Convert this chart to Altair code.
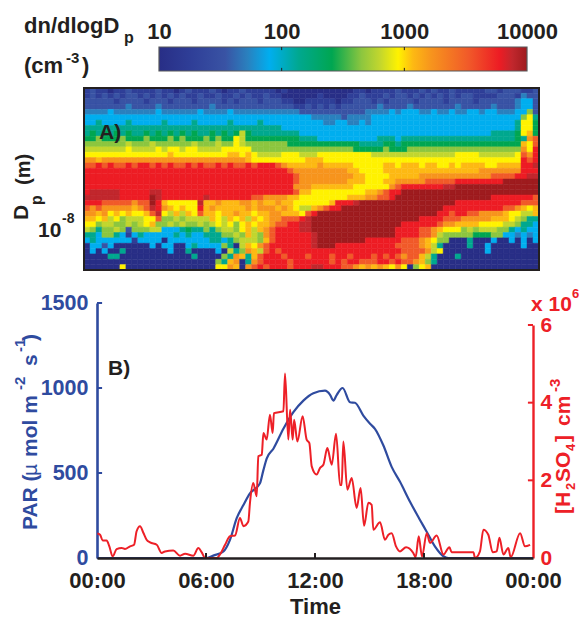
import altair as alt

# ---- data ----
grid_rows = [
"1211011211 1121101211 1210112111 1101000000 0000011011 1121112121 1211111221 222112",
"1212121221 2121212112 1121121211 2110000001 0000112111 2122121212 1212211112 221322",
"2222212222 1222122212 2221212221 2221100111 1101122212 1222212222 1222212222 223442",
"2222222322 2232222222 2322222222 2222211212 1212222223 2222322222 2232222232 223442",
"3333433333 3343333334 3333433333 3333332222 2222222333 3434443343 3433443443 334472",
"4444444444 4444444444 4444444444 4444444433 3332333344 4444444444 4444444444 444795",
"4454444544 4445444454 4444544445 4444444444 3344334344 4444444444 4444444444 445996",
"5555555555 5555555555 5555555555 5554444444 4444444444 4444444444 4444444444 445996",
"5656565655 6565656565 5656568655 5555554444 4444444444 4444444444 4444444455 5569a6",
"6676667666 7666767666 7676698666 6666665554 4444444445 5545555555 5555555555 5565bc",
"7777777877 7877777787 7787798777 7777666666 6666665555 6656666666 6666666666 666a9c",
"8888888988 8898998998 8889999977 7777777777 7777766666 7666777777 7777777777 777b9d",
"9999999999 9999a99999 9999aa9a98 8889998889 9999999988 8888888888 8899998888 889cbd",
"bbabbbbbbb bbbbbbbbbb bbbbbbba99 9999999aaa 9999999999 9999999999 9999999999 999dcd",
"ccdcdccdcd dcdcdccdcd ccdcdccdcd ddcbaaaaab aaaaa99999 aa9aaa9aa9 9a9aaaa99a aaadde",
"dddddddddd dddddddddd dddddddddd ddddcbbbbb bbbbaa9999 aaaaaaaaaa aaaaaabbbb bbbddd",
"dddddddddd dddddddddd dddddddddd dddddcbbbb bbbbbaa999 9aaaaabbbb bbbbbbbbcc ccddee",
"dddddddddd dddddddddd dddddddddd dddddcbbbb bbbbaaa999 aabbbbbccc ccdddddddd ffffff",
"dddddddddd dddddddddd dddddddddd dddddbbbaa aaaaa99999 9bcddddddd eeffffffff ffffff",
"deeeeedddd deeddddddd dddddddddd dddddcaa99 9999999aab cddfffffff ffffffffff ffffff",
"eeeeeedddd dfeddddddd edddddddcc bbbbaa9999 9999aaabbc cdffffffff ffffffffdd dddddc",
"dddcccccbc cfda99999e aabaaabbab aabaa99999 9adddeffff ffffffffff ffdddddddd dddccc",
"cbcbbbbbab cedba9a99d abaaaaabab bbaba988ab cddfffffff ffffffffff dddddddddd ccba9a",
"bbab9a9a99 ace98a8a9c aa9aabaa9a abbaaa9cdf ffffffffff fffffffffd dcddccbbbb a9988a",
"aa9a897888 99c7787888 8a98a9a8a9 abbcccdeff ffffffffff ffffffdddd cccbbbbbaa a98755",
"9978877878 9a77878778 7898979a9a abccddeeff ffffffffff fffddddddc bbaaaa9999 887554",
"8757787277 7884445655 7578879a8a bcddddeeff ffffffffff ffddddccba 9997878887 754544",
"5547754145 4444454544 5557787a87 bcddddddef ffffffffff ffddddccb8 7777766677 443434",
"4544444414 4440444444 4554578887 acddddddef fffffffddd dddcccba97 7000500040 040404",
"0442400000 0404400454 4447508a9b cdddddddef ffdddddddd ddccccba85 0000500400 000400",
"0404005000 0000400500 0040857ba8 cdcddddddd dddddddddd dddccccb89 0000000400 000000",
"0000550000 0000000050 00075ba5ac dddcdddcdd dcddcdddcd cdcbcca850 0050000000 000000",
"0000000000 0000000000 0075ab05bc ddddcddddd dcdcddcccd dcdccba750 0000000000 000000",
"0000009000 0000000000 0099ba0bcd cdddcdddee dddccbabab a9b9079a00 0000000000 000000",
]
level_codes = "0123456789abcdef"
level_values = [10, 19, 35, 52, 80, 138, 259, 447, 630, 891, 1175, 1660, 3300, 5950, 7600, 10000]
level_colors = ["#282e86", "#2f3f98", "#3953a4", "#2a80be", "#00aeef", "#00a88f", "#00a651", "#8cc63f",
                "#c2d62e", "#fff200", "#fdb913", "#f7941d", "#f15a29", "#ed1c24", "#c1272d", "#9e1b1e"]
bar_offsets = [0, .09, .18, .24, .30, .38, .47, .55, .60, .65, .69, .74, .84, .925, .96, 1]
bar_labels = [10, 100, 1000, 10000]
bar_inner_ticks = [100, 1000]

par_hours = [0, 6.04, 6.40, 6.96, 7.32, 7.69, 8.06, 8.42, 8.97, 9.16, 9.34, 9.71, 10.26, 10.81, 11.36, 11.91,
             12.55, 12.83, 13.01, 13.2, 13.52, 13.93, 14.2, 14.66, 15.03, 15.3, 15.76, 16.22, 16.68, 17.23,
             17.78, 18.14, 18.6, 19.07, 19.34, 24]
par_values = [0, 0, 14, 39, 107, 234, 312, 380, 439, 517, 585, 643, 760, 858, 926, 969,
              984, 960, 926, 960, 1000, 916, 913, 838, 790, 760, 663, 536, 448, 331,
              224, 156, 68, 10, 0, 0]

acid_hours = [0.02, .17, .31, .53, .68, .86, 1.08, 1.36, 1.54, 1.82, 2.04, 2.18, 2.37, 2.55, 2.73, 2.92, 3.29, 3.56,
              3.74, 4.2, 4.57, 4.85, 5.3, 5.58, 5.76, 5.95, 6.22, 6.59, 6.77, 7.05, 7.32, 7.6, 7.87, 8.06, 8.33, 8.42,
              8.6, 8.79, 8.88, 9.07, 9.16, 9.34, 9.52, 9.67, 9.74, 10.26, 10.35, 10.53, 10.63, 10.77, 10.85, 11.03,
              11.32, 11.54, 11.69, 11.82, 12.09, 12.28, 12.46, 12.68, 12.92, 13.16, 13.38, 13.47, 13.56, 13.78, 14.02,
              14.29, 14.51, 14.7, 14.94, 15.12, 15.21, 15.58, 15.85, 16.04, 16.22, 16.46, 16.68, 17.01, 17.41, 17.54,
              17.71, 17.89, 18.15, 18.33, 18.7, 19.07, 19.4, 19.52, 20.72, 20.81, 21.08, 21.27, 21.54, 21.78, 22.0,
              22.15, 22.37, 22.64, 22.77, 23.29, 23.56, 23.84]
acid_values = [.63, .60, .45, .45, .30, .04, .23, .26, .23, .30, .34, .69, .82, .65, .47, .40, .34, .13,
               .17, .19, .06, .11, .06, .26, .15, 0, 0, 0, .09, .34, .56, .58, 1.03, .82, .94, 1.42,
               1.93, 1.59, 2.62, 2.66, 3.22, 3.05, 3.69, 3.22, 3.73, 3.78, 4.75, 3.05, 3.82, 3.05, 3.56, 3.0,
               3.65, 3.05, 2.96, 2.36, 2.15, 2.32, 2.40, 2.83, 2.40, 3.2, 1.88, 1.88, 3.0, 1.76, 2.06,
               1.29, 1.80, .83, 1.42, 1.37, .73, .92, .47, .60, .64, .30, .17, .28, .13, .02,
               .56, .04, .64, .39, .58, .09, .28, .15, .15, 0, .17, .73, .60, .15, .17,
               .52, .09, .26, .02, .64, .30, .34]

time_ticks = [0, 6, 12, 18, 24]
par_ticks = [0, 500, 1000, 1500]
acid_ticks = [0, 2, 4, 6]

# ---- style and layout ----
W, H = 571, 609
FONT = "Liberation Sans"
INK = "#231f20"
BLUE = "#2f4b9f"
RED = "#ed2027"

grid_table = []
for r, row in enumerate(grid_rows):
    for c, ch in enumerate(row.replace(" ", "")):
        grid_table.append({"c0": c, "c1": c + 1, "r0": r, "r1": r + 1,
                           "v": level_values[level_codes.index(ch)]})
n_cols = len(grid_rows[0].replace(" ", ""))
n_rows = len(grid_rows)

gx = alt.Scale(domain=[0, n_cols], range=[76, 531], nice=False, zero=False)
gy = alt.Scale(domain=[0, n_rows], range=[80, 262], nice=False, zero=False)
cs = alt.Scale(type="log", domain=level_values, range=level_colors)

heat = alt.Chart(alt.Data(values=grid_table)).mark_rect(strokeWidth=0.5).encode(
    x=alt.X("c0:Q", scale=gx, axis=None), x2="c1:Q",
    y=alt.Y("r0:Q", scale=gy, axis=None), y2="r1:Q",
    fill=alt.Fill("v:Q", scale=cs, legend=None),
    stroke=alt.Stroke("v:Q", scale=cs, legend=None),
)
frame = alt.Chart(alt.Data(values=[{"a": 0, "b": n_cols, "p": 0, "q": n_rows}])).mark_rect(
    fill=None, fillOpacity=0, stroke=INK, strokeWidth=2
).encode(
    x=alt.X("a:Q", scale=gx, axis=None), x2="b:Q",
    y=alt.Y("p:Q", scale=gy, axis=None), y2="q:Q",
)

# colour bar
bx = alt.Scale(type="log", domain=[10, 10000], range=[151, 519], nice=False)
by = alt.Scale(domain=[0, 1], range=[63, 39], nice=False, zero=False)
gradient = alt.LinearGradient(
    gradient="linear", x1=0, x2=1, y1=0, y2=0,
    stops=[alt.GradientStop(offset=o, color=k) for o, k in zip(bar_offsets, level_colors)],
)
bar = alt.Chart(alt.Data(values=[{"a": 10, "b": 10000, "p": 0, "q": 1}])).mark_rect(
    fill=gradient, stroke="#58595b", strokeWidth=1.2
).encode(
    x=alt.X("a:Q", scale=bx, axis=alt.Axis(
        orient="top", offset=-39, values=bar_labels, format="d", title=None, domain=False, ticks=False,
        grid=False, labelFont=FONT, labelFontSize=22, labelFontWeight="bold", labelColor=INK,
        labelPadding=4, labelOverlap=False, labelFlush=False)),
    x2="b:Q",
    y=alt.Y("p:Q", scale=by, axis=None), y2="q:Q",
)
bar_ticks = alt.Chart(alt.Data(values=[{"v": v, "p": p, "q": q} for v in bar_inner_ticks
                                       for p, q in ((0, .13), (.87, 1))])).mark_rule(
    color=INK, strokeWidth=1
).encode(
    x=alt.X("v:Q", scale=bx, axis=None),
    y=alt.Y("p:Q", scale=by, axis=None), y2="q:Q",
)

# panel B
tx = alt.Scale(domain=[0, 24], range=[89, 525], nice=False, zero=False)
py = alt.Scale(domain=[0, 1500], range=[550, 295], nice=False, zero=False)
ay = alt.Scale(domain=[0, 6], range=[550, 317], nice=False, zero=False)

par_line = alt.Chart(alt.Data(values=[{"h": h, "v": v} for h, v in zip(par_hours, par_values)])).mark_line(
    color=BLUE, strokeWidth=2.2, interpolate="monotone", strokeJoin="round"
).encode(
    x=alt.X("h:Q", scale=tx, axis=alt.Axis(
        orient="bottom", offset=-(H - 550), values=time_ticks, ticks=False, grid=False, zindex=1,
        domainColor=INK, domainWidth=2.6, labelColor=INK, labelFont=FONT, labelFontSize=22,
        labelFontWeight="bold", labelPadding=12, labelOverlap=False, labelFlush=False,
        labelExpr="(datum.value % 24 < 10 ? '0' : '') + (datum.value % 24) + ':00'",
        title="Time", titleFont=FONT, titleFontSize=22, titleFontWeight="bold", titleColor=INK,
        titlePadding=5)),
    y=alt.Y("v:Q", scale=py, axis=alt.Axis(
        orient="left", offset=-89, values=par_ticks, format="d", ticks=False, grid=False, title=None,
        domainColor=BLUE, domainWidth=2.6, labelColor=BLUE, labelFont=FONT, labelFontSize=21.5,
        labelFontWeight="bold", labelPadding=9, labelOverlap=False, labelFlush=False)),
)
acid_line = alt.Chart(alt.Data(values=[{"h": h, "v": v} for h, v in zip(acid_hours, acid_values)])).mark_line(
    color=RED, strokeWidth=2, interpolate="monotone", strokeJoin="round"
).encode(
    x=alt.X("h:Q", scale=tx, axis=None),
    y=alt.Y("v:Q", scale=ay, axis=alt.Axis(
        orient="right", offset=-(W - 525), values=acid_ticks, ticks=False, grid=False, title=None,
        domainColor=RED, domainWidth=2.4, labelColor=RED, labelFont=FONT, labelFontSize=21,
        labelFontWeight="bold", labelPadding=7, labelOverlap=False, labelFlush=False)),
)


def inward_x(values):
    return alt.Chart(alt.Data(values=[{"v": v, "p": 0, "q": 30} for v in values])).mark_rule(
        color=INK, strokeWidth=2).encode(
        x=alt.X("v:Q", scale=tx, axis=None),
        y=alt.Y("p:Q", scale=py, axis=None), y2="q:Q")


def inward_y(values, scale, a, b, color):
    return alt.Chart(alt.Data(values=[{"v": v, "a": a, "b": b} for v in values])).mark_rule(
        color=color, strokeWidth=2).encode(
        x=alt.X("a:Q", scale=tx, axis=None), x2="b:Q",
        y=alt.Y("v:Q", scale=scale, axis=None))


layers = [heat, frame, bar, bar_ticks, par_line, acid_line,
          inward_x(time_ticks[1:-1]),
          inward_y(par_ticks[1:], py, 0, 0.28, BLUE),
          inward_y(acid_ticks[1:], ay, 23.72, 24, RED)]

# annotation text: (text, page x, page y, size, colour, rotated, weight)
notes = [
    ("dn/dlogD", 24, 33, 22, INK, False, "bold"),
    ("p", 124, 43, 16, INK, False, "bold"),
    ("(cm", 24, 73, 22, INK, False, "bold"),
    ("-3", 66, 63, 15, INK, False, "bold"),
    (")", 82, 73, 22, INK, False, "bold"),
    ("A)", 99, 139, 21, INK, False, "bold"),
    ("B)", 108, 375, 21, INK, False, "bold"),
    ("D", 28, 220, 21, INK, True, "bold"),
    ("p", 42, 205, 16, INK, True, "bold"),
    ("(m)", 30, 185, 20, INK, True, "bold"),
    ("10", 38, 237, 21, INK, False, "bold"),
    ("-8", 62, 223, 14, INK, False, "bold"),
    ("PAR (", 37, 530, 21, BLUE, True, "bold"),
    ("\u00b5", 37, 476, 21, BLUE, True, "normal"),
    ("mol m", 37, 457, 21, BLUE, True, "bold"),
    ("-2", 25, 390, 15, BLUE, True, "bold"),
    ("s", 37, 366, 21, BLUE, True, "bold"),
    ("-1", 25, 352, 15, BLUE, True, "bold"),
    (")", 37, 341, 21, BLUE, True, "bold"),
    ("x 10", 531, 311, 21, RED, False, "bold"),
    ("6", 572, 298, 13, RED, False, "bold"),
    ("[H", 570, 514, 21, RED, True, "bold"),
    ("2", 575, 490, 13, RED, True, "bold"),
    ("SO", 570, 482, 21, RED, True, "bold"),
    ("4", 575, 451, 13, RED, True, "bold"),
    ("]", 570, 442, 21, RED, True, "bold"),
    ("cm", 570, 426, 21, RED, True, "bold"),
    ("-3", 560, 392, 15, RED, True, "bold"),
]
for text, px, py_, size, color, rot, weight in notes:
    kw = {"angle": 270} if rot else {}
    layers.append(
        alt.Chart(alt.Data(values=[{"t": text}])).mark_text(
            align="left", baseline="alphabetic", font=FONT, fontSize=size, fontWeight=weight,
            color=color, **kw
        ).encode(x=alt.value(px - 8), y=alt.value(py_ - 8), text="t:N")
    )

chart = alt.layer(*layers).resolve_scale(x="independent", y="independent").properties(
    width=W, height=H, padding=0, autosize=alt.AutoSizeParams(type="none"),
    background="#ffffff",
).configure_view(stroke=None)

chart.save("out.html", embed_options={"renderer": "svg", "actions": False})
